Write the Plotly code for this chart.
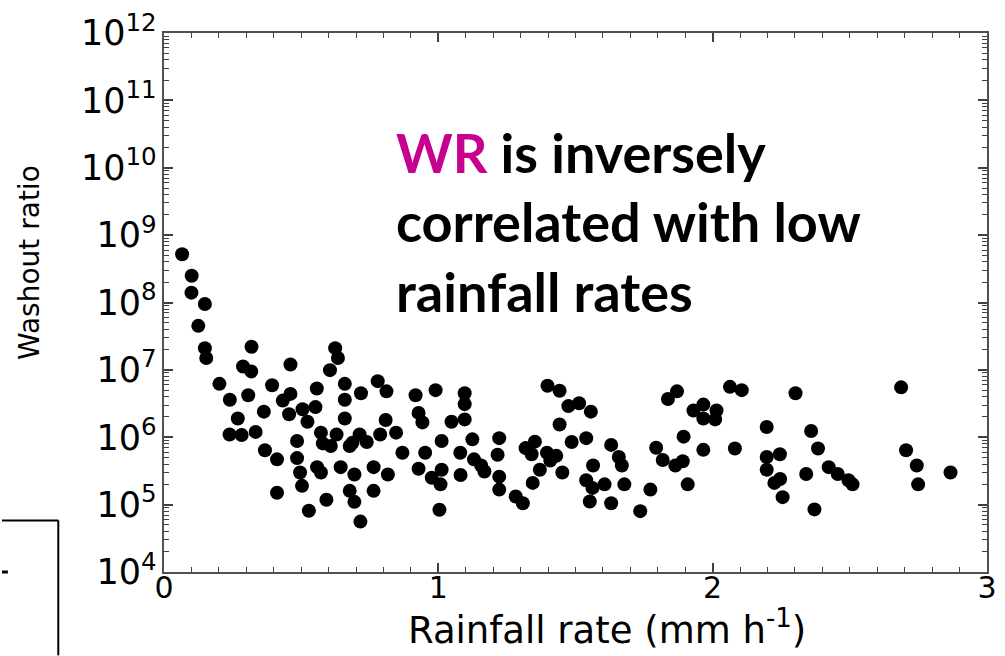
import plotly.graph_objects as go

# Rainfall rate (mm h-1)
rain = [0.066, 0.101, 0.100, 0.149, 0.125, 0.149, 0.154, 0.202, 0.240, 0.269,
        0.288, 0.318, 0.319, 0.307, 0.364, 0.394, 0.433, 0.461, 0.461, 0.456,
        0.505, 0.523, 0.557, 0.552, 0.605, 0.624, 0.634, 0.659, 0.659, 0.659,
        0.718, 0.779, 0.811, 0.808, 0.917, 0.928, 0.942, 0.990, 1.048,
        0.239, 0.283, 0.334, 0.368, 0.412, 0.412, 0.485, 0.485, 0.496, 0.503,
        0.572, 0.579, 0.608, 0.558, 0.572, 0.528, 0.592, 0.629, 0.644, 0.677,
        0.687, 0.713, 0.739, 0.694, 0.677, 0.694, 0.716, 0.764, 0.764, 0.788,
        0.816, 0.846, 0.869, 0.928, 0.952, 0.976, 1.012, 1.012, 1.008, 1.004,
        1.096, 1.096, 1.096, 1.080, 1.081, 1.124, 1.130, 1.156, 1.168, 1.222,
        1.216, 1.222, 1.222, 1.282, 1.308, 1.318, 1.352, 1.340, 1.370, 1.344,
        1.398, 1.442, 1.442, 1.474, 1.513, 1.556, 1.486, 1.396, 1.408, 1.430,
        1.452, 1.539, 1.564, 1.539, 1.562, 1.552, 1.606, 1.630, 1.658, 1.669,
        1.678, 1.630, 1.736, 1.773, 1.794, 1.818, 1.837, 1.870, 1.894, 1.864,
        1.891, 1.909, 1.930, 1.966, 1.966, 1.966, 2.014, 2.009,
        2.063, 2.106, 2.081, 2.197, 2.197, 2.245, 2.197, 2.225, 2.246, 2.255,
        2.302, 2.359, 2.384, 2.341, 2.371, 2.423, 2.456, 2.495, 2.510, 2.687,
        2.705, 2.744, 2.749, 2.867]

# Washout ratio
washout = [5.2e8, 2.5e8, 1.4e8, 9.5e7, 4.5e7, 2.1e7, 1.5e7, 6.2e6, 3.6e6, 1.9e6,
           1.12e7, 9.5e6, 2.2e7, 4.2e6, 2.4e6, 5.9e6, 3.5e6, 4.4e6, 1.2e7, 2.2e6,
           2.6e6, 1.7e6, 5.3e6, 2.8e6, 9.9e6, 2.1e7, 1.5e7, 6.2e6, 3.6e6, 1.9e6,
           4.5e6, 6.8e6, 4.8e6, 1.8e6, 4.2e6, 2.3e6, 1.66e6, 5.0e6, 1.7e6,
           1.1e6, 1.08e6, 1.2e6, 6.4e5, 4.7e5, 1.5e5, 8.8e5, 4.9e5, 3.0e5, 1.9e5,
           1.17e6, 8.1e5, 7.4e5, 3.6e5, 3.0e5, 8.1e4, 1.18e5, 1.1e6, 3.6e5, 7.4e5,
           8.3e5, 1.1e6, 8.5e5, 2.8e5, 1.6e5, 1.1e5, 5.6e4, 3.6e5, 1.6e5, 1.1e6,
           2.8e5, 1.17e6, 5.9e5, 3.4e5, 5.9e5, 2.5e5, 8.8e5, 3.3e5, 2.0e5, 8.4e4,
           4.5e6, 3.1e6, 1.84e6, 5.9e5, 2.75e5, 9.3e5, 4.7e5, 3.8e5, 3.1e5, 9.7e5,
           5.5e5, 2.6e5, 1.67e5, 1.32e5, 1.05e5, 6.9e5, 8.6e5, 5.6e5, 3.3e5, 2.1e5,
           5.8e6, 4.9e6, 1.55e6, 2.9e6, 3.2e6, 2.4e6, 8.5e5, 5.9e5, 4.5e5, 5.3e5,
           3.0e5, 9.7e5, 3.8e5, 2.3e5, 1.77e5, 1.11e5, 2.0e5, 7.7e5, 5.1e5, 3.8e5,
           2.0e5, 1.05e5, 8.0e4, 1.67e5, 7.0e5, 4.6e5, 3.7e6, 4.8e6, 1.02e6, 3.8e5,
           4.4e5, 2.0e5, 2.5e6, 3.05e6, 1.9e6, 6.5e5, 2.5e6, 1.84e6,
           5.6e6, 5.0e6, 6.8e5, 1.42e6, 5.1e5, 5.6e5, 3.3e5, 2.1e5, 2.4e5, 1.29e5,
           4.5e6, 1.24e6, 6.8e5, 2.85e5, 8.5e4, 3.6e5, 2.85e5, 2.3e5, 2.0e5, 5.5e6,
           6.4e5, 3.8e5, 2.0e5, 3.0e5]

x_title = "Rainfall rate (mm h<sup>-1</sup>)"
y_title = "Washout ratio"
note_lines = ['<span style="color:#C8008F">WR</span> is inversely',
              "correlated with low",
              "rainfall rates"]

W, H = 1005, 656
L, R, T, B = 164, 8, 29, 84
PW, PH = W - L - R, H - T - B

def px(xp):
    return (xp - L) / PW

def py(yp):
    return (H - B - yp) / PH

TICKC = "#404040"

fig = go.Figure()
fig.add_trace(go.Scatter(
    x=rain, y=washout, mode="markers",
    marker=dict(color="black", size=14, line=dict(width=0)),
    showlegend=False))

axis_common = dict(
    showline=True, mirror="allticks", linecolor="#505050", linewidth=1.5,
    ticks="inside", tickcolor=TICKC, ticklen=9, tickwidth=1.6,
    showgrid=False, zeroline=False,
)

fig.update_layout(
    xaxis=dict(range=[0, 3], dtick=1, tick0=0,
               tickfont=dict(family="DejaVu Sans", size=30, color="black"),
               ticklabelstandoff=-12,
               minor=dict(ticks="inside", dtick=0.1, tick0=0, ticklen=5, tickwidth=1.4,
                          tickcolor=TICKC, showgrid=False),
               **axis_common),
    yaxis=dict(type="log", range=[4, 12], dtick=1, exponentformat="power",
               tickfont=dict(family="DejaVu Sans", size=28, color="black"),
               minor=dict(ticks="inside", ticklen=5, tickwidth=1.4,
                          tickcolor=TICKC, showgrid=False),
               **axis_common),
)

fig.add_annotation(text=x_title, xref="paper", yref="paper", x=px(612), y=py(628),
                   xanchor="center", yanchor="middle", showarrow=False,
                   font=dict(family="DejaVu Sans", size=37, color="black"))
fig.add_annotation(text=y_title, xref="paper", yref="paper", x=px(28), y=py(260),
                   xanchor="center", yanchor="middle", textangle=-90, showarrow=False,
                   font=dict(family="DejaVu Sans", size=28, color="black"))

for i, line in enumerate(note_lines):
    fig.add_annotation(text="<b>" + line + "</b>", xref="paper", yref="paper",
                       x=px(397), y=py(149 + 70 * i), xanchor="left", yanchor="middle",
                       showarrow=False,
                       font=dict(family="Lato", size=54, color="black"))

# slide artifact on the left (partial box)
box = dict(color="black", width=2)
fig.add_shape(type="line", xref="paper", yref="paper", x0=px(0), y0=py(520), x1=px(57), y1=py(520), line=box)
fig.add_shape(type="line", xref="paper", yref="paper", x0=px(57), y0=py(520), x1=px(57), y1=py(656), line=box)
fig.add_shape(type="line", xref="paper", yref="paper", x0=px(0), y0=py(572), x1=px(6), y1=py(572),
              line=dict(color="black", width=3))

fig.update_layout(
    width=W, height=H,
    margin=dict(l=L, r=R, t=T, b=B),
    paper_bgcolor="white", plot_bgcolor="white",
)

fig.write_html("out.html")
